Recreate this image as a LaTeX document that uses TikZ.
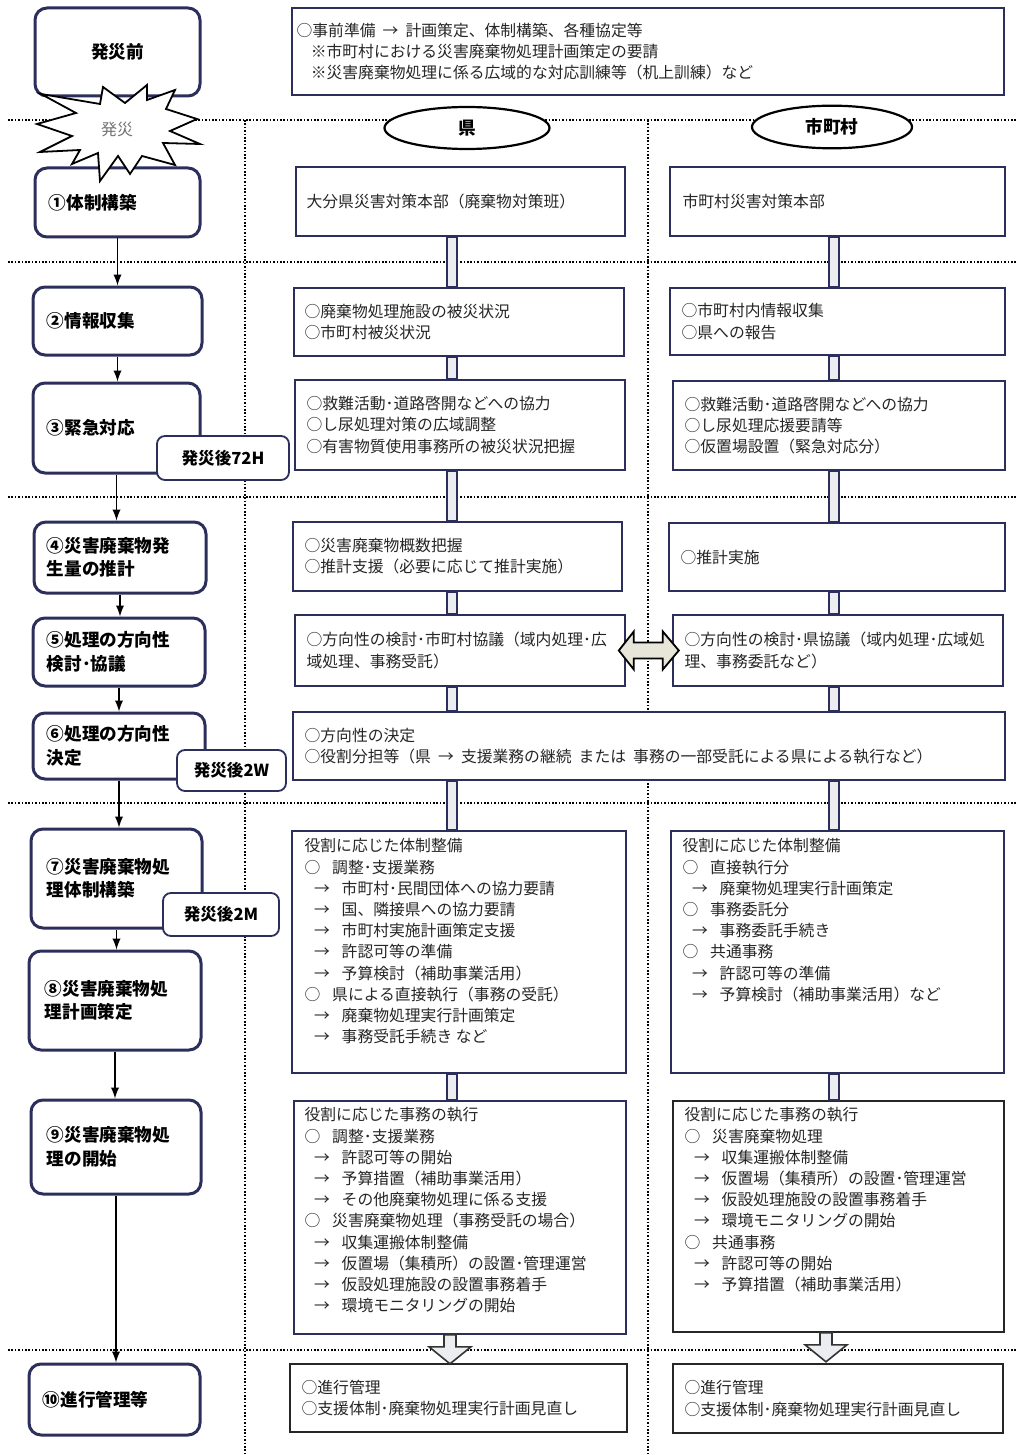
\documentclass[tikz,border=0pt]{standalone}
\usepackage{fontspec}
\setmainfont{Noto Sans CJK JP}
\usetikzlibrary{arrows,fit,shapes.geometric}
\definecolor{navy}{RGB}{44,47,92}
\definecolor{pipegray}{RGB}{236,237,240}
\definecolor{beige}{RGB}{232,230,216}
\newcommand{\tostep}{\hspace*{0.6em}→\hspace{0.75em}}
\newcommand{\topic}{○\hspace{0.75em}}
\newcommand{\gap}{\hspace{0.45em}}
\tikzset{
  stage/.style={draw=navy, line width=1.5pt, rounded corners=6pt, fill=white, inner sep=0pt},
  stagetext/.style={anchor=west, inner sep=0pt, align=left, font=\bfseries\fontsize{8.8}{11.8}\selectfont},
  tag/.style={draw=navy, line width=0.9pt, rounded corners=4pt, fill=white, inner sep=0pt, font=\bfseries\fontsize{8.3}{9}\selectfont},
  task/.style={draw=navy, line width=0.8pt, fill=white, inner sep=0pt},
  tasktext/.style={anchor=west, inner sep=0pt, align=left, text=black!85, font=\fontsize{7.9}{10.6}\selectfont},
  who/.style={draw, ellipse, line width=1.1pt, fill=white, minimum height=21pt, font=\bfseries\fontsize{8.8}{10}\selectfont},
  sep/.style={line width=0.6pt, dash pattern=on 0.8pt off 0.9pt},
  pipe/.style={draw=navy, line width=0.8pt, fill=pipegray},
  flow/.style={-latex, line width=0.9pt},
}

\begin{document}
\begin{tikzpicture}[x=0.5pt, y=-0.5pt]
	\useasboundingbox (0,0) rectangle (1017,1455);
	%%  phase separators  %%%%%%%%
	\foreach \y in {120,262,497,803,1350}
		\draw[sep] (8,\y) -- (1017,\y);
	\draw[sep] (245,120) -- (245,1455);
	\draw[sep] (648,120) -- (648,1455);

	%%  stages (left)  %%%%%%%%
	\node[stage, fit={(35,8)(200,96)}] (s0) {};
	\node[font=\bfseries\fontsize{8.8}{11.8}\selectfont] at (s0) {発災前};
	\node[stage, fit={(35,168)(200,237)}] (s1) {};
	\node[stagetext] at ([xshift=7.5pt]s1.west) {①体制構築};
	\node[stage, fit={(33,287)(202,355)}] (s2) {};
	\node[stagetext] at ([xshift=7.5pt]s2.west) {②情報収集};
	\node[stage, fit={(33,383)(200,473)}] (s3) {};
	\node[stagetext] at ([xshift=7.5pt]s3.west) {③緊急対応};
	\node[stage, fit={(34,522)(206,593)}] (s4) {};
	\node[stagetext] at ([xshift=7pt]s4.west) {④災害廃棄物発\\生量の推計};
	\node[stage, fit={(33,618)(205,686)}] (s5) {};
	\node[stagetext] at ([xshift=7.5pt]s5.west) {⑤処理の方向性\\検討･協議};
	\node[stage, fit={(33,713)(205,779)}] (s6) {};
	\node[stagetext] at ([xshift=7.5pt]s6.west) {⑥処理の方向性\\決定};
	\node[stage, fit={(31,829)(202,928)}] (s7) {};
	\node[stagetext] at ([xshift=8.5pt]s7.west) {⑦災害廃棄物処\\理体制構築};
	\node[stage, fit={(29,951)(201,1050)}] (s8) {};
	\node[stagetext] at ([xshift=8.5pt]s8.west) {⑧災害廃棄物処\\理計画策定};
	\node[stage, fit={(31,1100)(201,1194)}] (s9) {};
	\node[stagetext] at ([xshift=8.5pt]s9.west) {⑨災害廃棄物処\\理の開始};
	\node[stage, fit={(29,1364)(200,1435)}] (s10) {};
	\node[stagetext] at ([xshift=7.5pt]s10.west) {⑩進行管理等};

	%%  disaster burst  %%%%%%%%
	\draw[line width=0.9pt, fill=white] (41,94) -- (76,113) -- (37,124) -- (72,136) -- (40,152) -- (80,150)
		-- (72,164) -- (98,153) -- (100,181) -- (118,156) -- (130,174) -- (142,156) -- (175,165)
		-- (163,143) -- (200,144) -- (170,131) -- (197,119) -- (166,109) -- (175,90) -- (147,100)
		-- (147,85) -- (125,103) -- (103,87) -- (100,104) -- cycle;
	\node[text=black!55, font=\fontsize{8}{9}\selectfont] (burst) at (117,129) {発災};

	%%  flow arrows  %%%%%%%%
	\foreach \a/\b in {s1/s2,s2/s3,s3/s4,s4/s5,s5/s6,s6/s7,s7/s8,s8/s9,s9/s10}
		\draw[flow] (\a.south) -- (\a.south |- \b.north);

	%%  time tags  %%%%%%%%
	\node[tag, minimum width=66pt, minimum height=22pt] (t72h) at (223,458) {発災後72H};
	\node[tag, minimum width=54.5pt, minimum height=20.5pt] (t2w) at (231.5,770.5) {発災後2W};
	\node[tag, minimum width=58pt, minimum height=21.5pt] (t2m) at (221,914.5) {発災後2M};

	%%  before the disaster  %%%%%%%%
	\node[task, fit={(292,8)(1004,95)}] (pre) {};
	\node[tasktext] at ([xshift=2.5pt]pre.west) {○事前準備\gap→\gap 計画策定、体制構築、各種協定等\\\hspace*{0.9em}※市町村における災害廃棄物処理計画策定の要請\\\hspace*{0.9em}※災害廃棄物処理に係る広域的な対応訓練等（机上訓練）など};

	%%  actors  %%%%%%%%
	\node[who, minimum width=82.5pt] (ken) at (467,128) {県};
	\node[who, minimum width=80pt] (shi) at (832,127) {市町村};

	%%  prefecture column  %%%%%%%%
	\node[task, fit={(296,167)(625,236)}] (k1) {};
	\node[tasktext] at ([xshift=5.5pt]k1.west) {大分県災害対策本部（廃棄物対策班）};
	\node[task, fit={(294,288)(624,356)}] (k2) {};
	\node[tasktext] at ([xshift=5.5pt]k2.west) {○廃棄物処理施設の被災状況\\○市町村被災状況};
	\node[task, fit={(295,380)(625,470)}] (k3) {};
	\node[tasktext] at ([xshift=6pt]k3.west) {○救難活動･道路啓開などへの協力\\○し尿処理対策の広域調整\\○有害物質使用事務所の被災状況把握};
	\node[task, fit={(293,522)(622,591)}] (k4) {};
	\node[tasktext] at ([xshift=6pt]k4.west) {○災害廃棄物概数把握\\○推計支援（必要に応じて推計実施）};
	\node[task, fit={(295,615)(625,686)}] (k5) {};
	\node[tasktext] at ([xshift=6pt]k5.west) {○方向性の検討･市町村協議（域内処理･広\\域処理、事務受託）};
	\node[task, fit={(293,712)(1005,780)}] (k6) {};
	\node[tasktext] at ([xshift=6pt]k6.west) {○方向性の決定\\○役割分担等（県\gap→\gap 支援業務の継続\gap または\gap 事務の一部受託による県による執行など）};
	\node[task, fit={(292,831)(626,1073)}] (k7) {};
	\node[tasktext, anchor=north west] at ([shift={(6.5pt,-4pt)}]k7.north west) {役割に応じた体制整備\\\topic 調整･支援業務\\\tostep 市町村･民間団体への協力要請\\\tostep 国、隣接県への協力要請\\\tostep 市町村実施計画策定支援\\\tostep 許認可等の準備\\\tostep 予算検討（補助事業活用）\\\topic 県による直接執行（事務の受託）\\\tostep 廃棄物処理実行計画策定\\\tostep 事務受託手続き など};
	\node[task, fit={(294,1101)(626,1334)}] (k8) {};
	\node[tasktext, anchor=north west] at ([shift={(5.5pt,-3.5pt)}]k8.north west) {役割に応じた事務の執行\\\topic 調整･支援業務\\\tostep 許認可等の開始\\\tostep 予算措置（補助事業活用）\\\tostep その他廃棄物処理に係る支援\\\topic 災害廃棄物処理（事務受託の場合）\\\tostep 収集運搬体制整備\\\tostep 仮置場（集積所）の設置･管理運営\\\tostep 仮設処理施設の設置事務着手\\\tostep 環境モニタリングの開始};
	\node[task, draw=black!85, fit={(290,1364)(627,1432)}] (k9) {};
	\node[tasktext] at ([xshift=6pt]k9.west) {○進行管理\\○支援体制･廃棄物処理実行計画見直し};

	%%  municipality column  %%%%%%%%
	\node[task, fit={(670,167)(1005,236)}] (m1) {};
	\node[tasktext] at ([xshift=6.5pt]m1.west) {市町村災害対策本部};
	\node[task, fit={(670,288)(1005,355)}] (m2) {};
	\node[tasktext] at ([xshift=6pt]m2.west) {○市町村内情報収集\\○県への報告};
	\node[task, fit={(673,381)(1005,470)}] (m3) {};
	\node[tasktext] at ([xshift=6pt]m3.west) {○救難活動･道路啓開などへの協力\\○し尿処理応援要請等\\○仮置場設置（緊急対応分）};
	\node[task, fit={(669,523)(1005,591)}] (m4) {};
	\node[tasktext] at ([xshift=6pt]m4.west) {○推計実施};
	\node[task, fit={(673,615)(1003,686)}] (m5) {};
	\node[tasktext] at ([xshift=6pt]m5.west) {○方向性の検討･県協議（域内処理･広域処\\理、事務委託など）};
	\node[task, fit={(671,831)(1004,1073)}] (m7) {};
	\node[tasktext, anchor=north west] at ([shift={(6pt,-4pt)}]m7.north west) {役割に応じた体制整備\\\topic 直接執行分\\\tostep 廃棄物処理実行計画策定\\\topic 事務委託分\\\tostep 事務委託手続き\\\topic 共通事務\\\tostep 許認可等の準備\\\tostep 予算検討（補助事業活用）など};
	\node[task, draw=black!85, fit={(673,1101)(1004,1332)}] (m8) {};
	\node[tasktext, anchor=north west] at ([shift={(6pt,-3.5pt)}]m8.north west) {役割に応じた事務の執行\\\topic 災害廃棄物処理\\\tostep 収集運搬体制整備\\\tostep 仮置場（集積所）の設置･管理運営\\\tostep 仮設処理施設の設置事務着手\\\tostep 環境モニタリングの開始\\\topic 共通事務\\\tostep 許認可等の開始\\\tostep 予算措置（補助事業活用）};
	\node[task, draw=black!85, fit={(673,1364)(1003,1433)}] (m9) {};
	\node[tasktext] at ([xshift=6pt]m9.west) {○進行管理\\○支援体制･廃棄物処理実行計画見直し};

	%%  pipes between the steps  %%%%%%%%
	\coordinate (pk) at (452,0);
	\coordinate (pm) at (834,0);
	\foreach \a/\b in {k1/k2,k2/k3,k3/k4,k4/k5,k5/k6,k6/k7,k7/k8}
		\draw[pipe] ([xshift=-2.5pt]pk |- \a.south) rectangle ([xshift=2.5pt]pk |- \b.north);
	\foreach \a/\b in {m1/m2,m2/m3,m3/m4,m4/m5,m5/k6,k6/m7,m7/m8}
		\draw[pipe] ([xshift=-2.5pt]pm |- \a.south) rectangle ([xshift=2.5pt]pm |- \b.north);

	%%  hollow arrows to the last step  %%%%%%%%
	\coordinate (ak) at (450,0);
	\coordinate (am) at (826,0);
	\draw[pipe, draw=black!80] ([xshift=-3pt]ak |- k8.south) -- ++(0,12) -- ++(-15,0) -- ++(21,17)
		-- ++(21,-17) -- ++(-15,0) -- ++(0,-12) -- cycle;
	\draw[pipe, draw=black!80] ([xshift=-3pt]am |- m8.south) -- ++(0,12) -- ++(-15,0) -- ++(21,17)
		-- ++(21,-17) -- ++(-15,0) -- ++(0,-12) -- cycle;

	%%  consultation between 県 and 市町村  %%%%%%%%
	\draw[line width=0.9pt, fill=beige] ([xshift=-3.5pt]k5.east) -- ++(15,-19) -- ++(0,11) -- ++(29,0)
		-- ++(0,-11) -- ++(16,19) -- ++(-16,19) -- ++(0,-11) -- ++(-29,0) -- ++(0,11) -- cycle;
\end{tikzpicture}
\end{document}
